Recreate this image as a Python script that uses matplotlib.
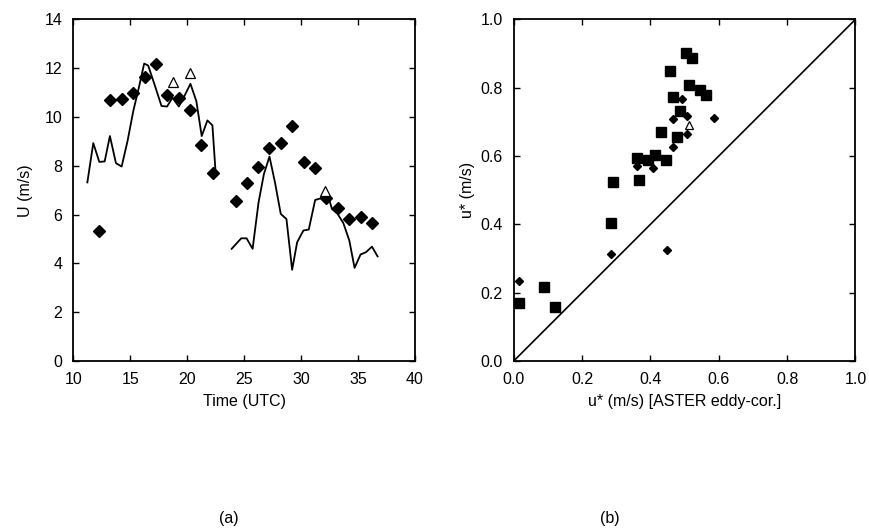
import matplotlib
matplotlib.use("Agg")
import matplotlib.pyplot as plt

plt.rcParams['font.family'] = ['Liberation Sans', 'DejaVu Sans']

# ---- Panel (a) data ----
model_t1 = [11.23, 11.75, 12.28, 12.75, 13.21, 13.74, 14.24, 14.76, 15.26, 15.75, 16.22, 16.57,
            17.15, 17.74, 18.23, 18.70, 19.26, 19.75, 20.28, 20.80, 21.27, 21.77, 22.21, 22.50]
model_u1 = [7.32, 8.93, 8.16, 8.18, 9.22, 8.11, 7.97, 9.02, 10.24, 11.2, 12.19, 12.11,
            11.3, 10.45, 10.43, 10.79, 10.43, 10.86, 11.36, 10.65, 9.22, 9.86, 9.66, 7.66]
model_t2 = [23.90, 24.74, 25.21, 25.74, 26.26, 26.73, 27.22, 27.72, 28.21, 28.71, 29.21, 29.65,
            30.20, 30.67, 31.23, 31.72, 32.19, 32.71, 33.20, 33.70, 34.23, 34.69, 35.22, 35.69,
            36.22, 36.71]
model_u2 = [4.60, 5.03, 5.03, 4.60, 6.50, 7.66, 8.38, 7.28, 6.03, 5.82, 3.74, 4.87,
            5.35, 5.39, 6.60, 6.67, 7.05, 6.23, 6.03, 5.66, 4.94, 3.82, 4.37, 4.46,
            4.69, 4.29]
obs_t = [12.28, 13.2, 14.24, 15.26, 16.28, 17.24, 18.23, 19.26, 20.28, 21.24, 22.23,
         24.25, 25.24, 26.23, 27.22, 28.21, 29.24, 30.23, 31.23, 32.22, 33.24, 34.23, 35.22, 36.22]
obs_u = [5.35, 10.71, 10.75, 10.98, 11.63, 12.18, 10.89, 10.79, 10.27, 8.84, 7.71,
         6.56, 7.28, 7.96, 8.72, 8.93, 9.63, 8.16, 7.93, 6.69, 6.27, 5.81, 5.92, 5.67]
tri_t = [18.76, 20.28, 32.1]
tri_u = [11.43, 11.81, 6.95]

# ---- Panel (b) data ----
sq_x = [0.504, 0.523, 0.457, 0.512, 0.545, 0.563, 0.467, 0.487, 0.432, 0.479,
        0.362, 0.392, 0.414, 0.447, 0.290, 0.368, 0.285, 0.090, 0.015, 0.120]
sq_y = [0.903, 0.886, 0.850, 0.808, 0.793, 0.779, 0.774, 0.732, 0.669, 0.657,
        0.594, 0.588, 0.602, 0.588, 0.525, 0.529, 0.403, 0.216, 0.169, 0.158]
dm_x = [0.493, 0.465, 0.586, 0.506, 0.506, 0.467, 0.362, 0.409, 0.285, 0.448, 0.015]
dm_y = [0.767, 0.707, 0.712, 0.718, 0.664, 0.627, 0.572, 0.564, 0.312, 0.325, 0.235]
tb_x = [0.512]
tb_y = [0.691]

FS = 11.5

fig = plt.figure(figsize=(8.69, 5.31), dpi=100)
ax1 = fig.add_axes([0.0844, 0.320, 0.3932, 0.6435])
ax2 = fig.add_axes([0.5911, 0.320, 0.3933, 0.6435])

ax1.plot(model_t1, model_u1, color='black', lw=1.3)
ax1.plot(model_t2, model_u2, color='black', lw=1.3)
ax1.plot(obs_t, obs_u, linestyle='none', marker='D', ms=6, color='black')
ax1.plot(tri_t, tri_u, linestyle='none', marker='^', ms=7, mfc='white', mec='black', mew=0.9)
ax1.set_xlim(10, 40)
ax1.set_ylim(0, 14)
ax1.set_xticks([10, 15, 20, 25, 30, 35, 40])
ax1.set_yticks([0, 2, 4, 6, 8, 10, 12, 14])
ax1.set_xlabel('Time (UTC)', fontsize=FS, labelpad=5)
ax1.set_ylabel('U (m/s)', fontsize=FS, labelpad=8)

ax2.plot([0, 1], [0, 1], color='black', lw=1.2)
ax2.plot(sq_x, sq_y, linestyle='none', marker='s', ms=7.5, color='black')
ax2.plot(dm_x, dm_y, linestyle='none', marker='D', ms=4.5, color='black')
ax2.plot(tb_x, tb_y, linestyle='none', marker='^', ms=6, mfc='white', mec='black', mew=0.9)
ax2.set_xlim(0, 1)
ax2.set_ylim(0, 1)
ax2.set_xticks([0, 0.2, 0.4, 0.6, 0.8, 1.0])
ax2.set_yticks([0, 0.2, 0.4, 0.6, 0.8, 1.0])
ax2.set_xticklabels(['0.0', '0.2', '0.4', '0.6', '0.8', '1.0'])
ax2.set_yticklabels(['0.0', '0.2', '0.4', '0.6', '0.8', '1.0'])
ax2.set_xlabel('u* (m/s) [ASTER eddy-cor.]', fontsize=FS, labelpad=5)
ax2.set_ylabel('u* (m/s)', fontsize=FS, labelpad=4)

for ax in (ax1, ax2):
    ax.tick_params(direction='in', length=4, width=1.0, top=True, right=True,
                   labelsize=FS, pad=8)
    for s in ax.spines.values():
        s.set_linewidth(1.3)

fig.text(0.263, 0.01, '(a)', fontsize=FS, ha='center', va='bottom')
fig.text(0.702, 0.01, '(b)', fontsize=FS, ha='center', va='bottom')

fig.savefig('out.png', dpi=100)
